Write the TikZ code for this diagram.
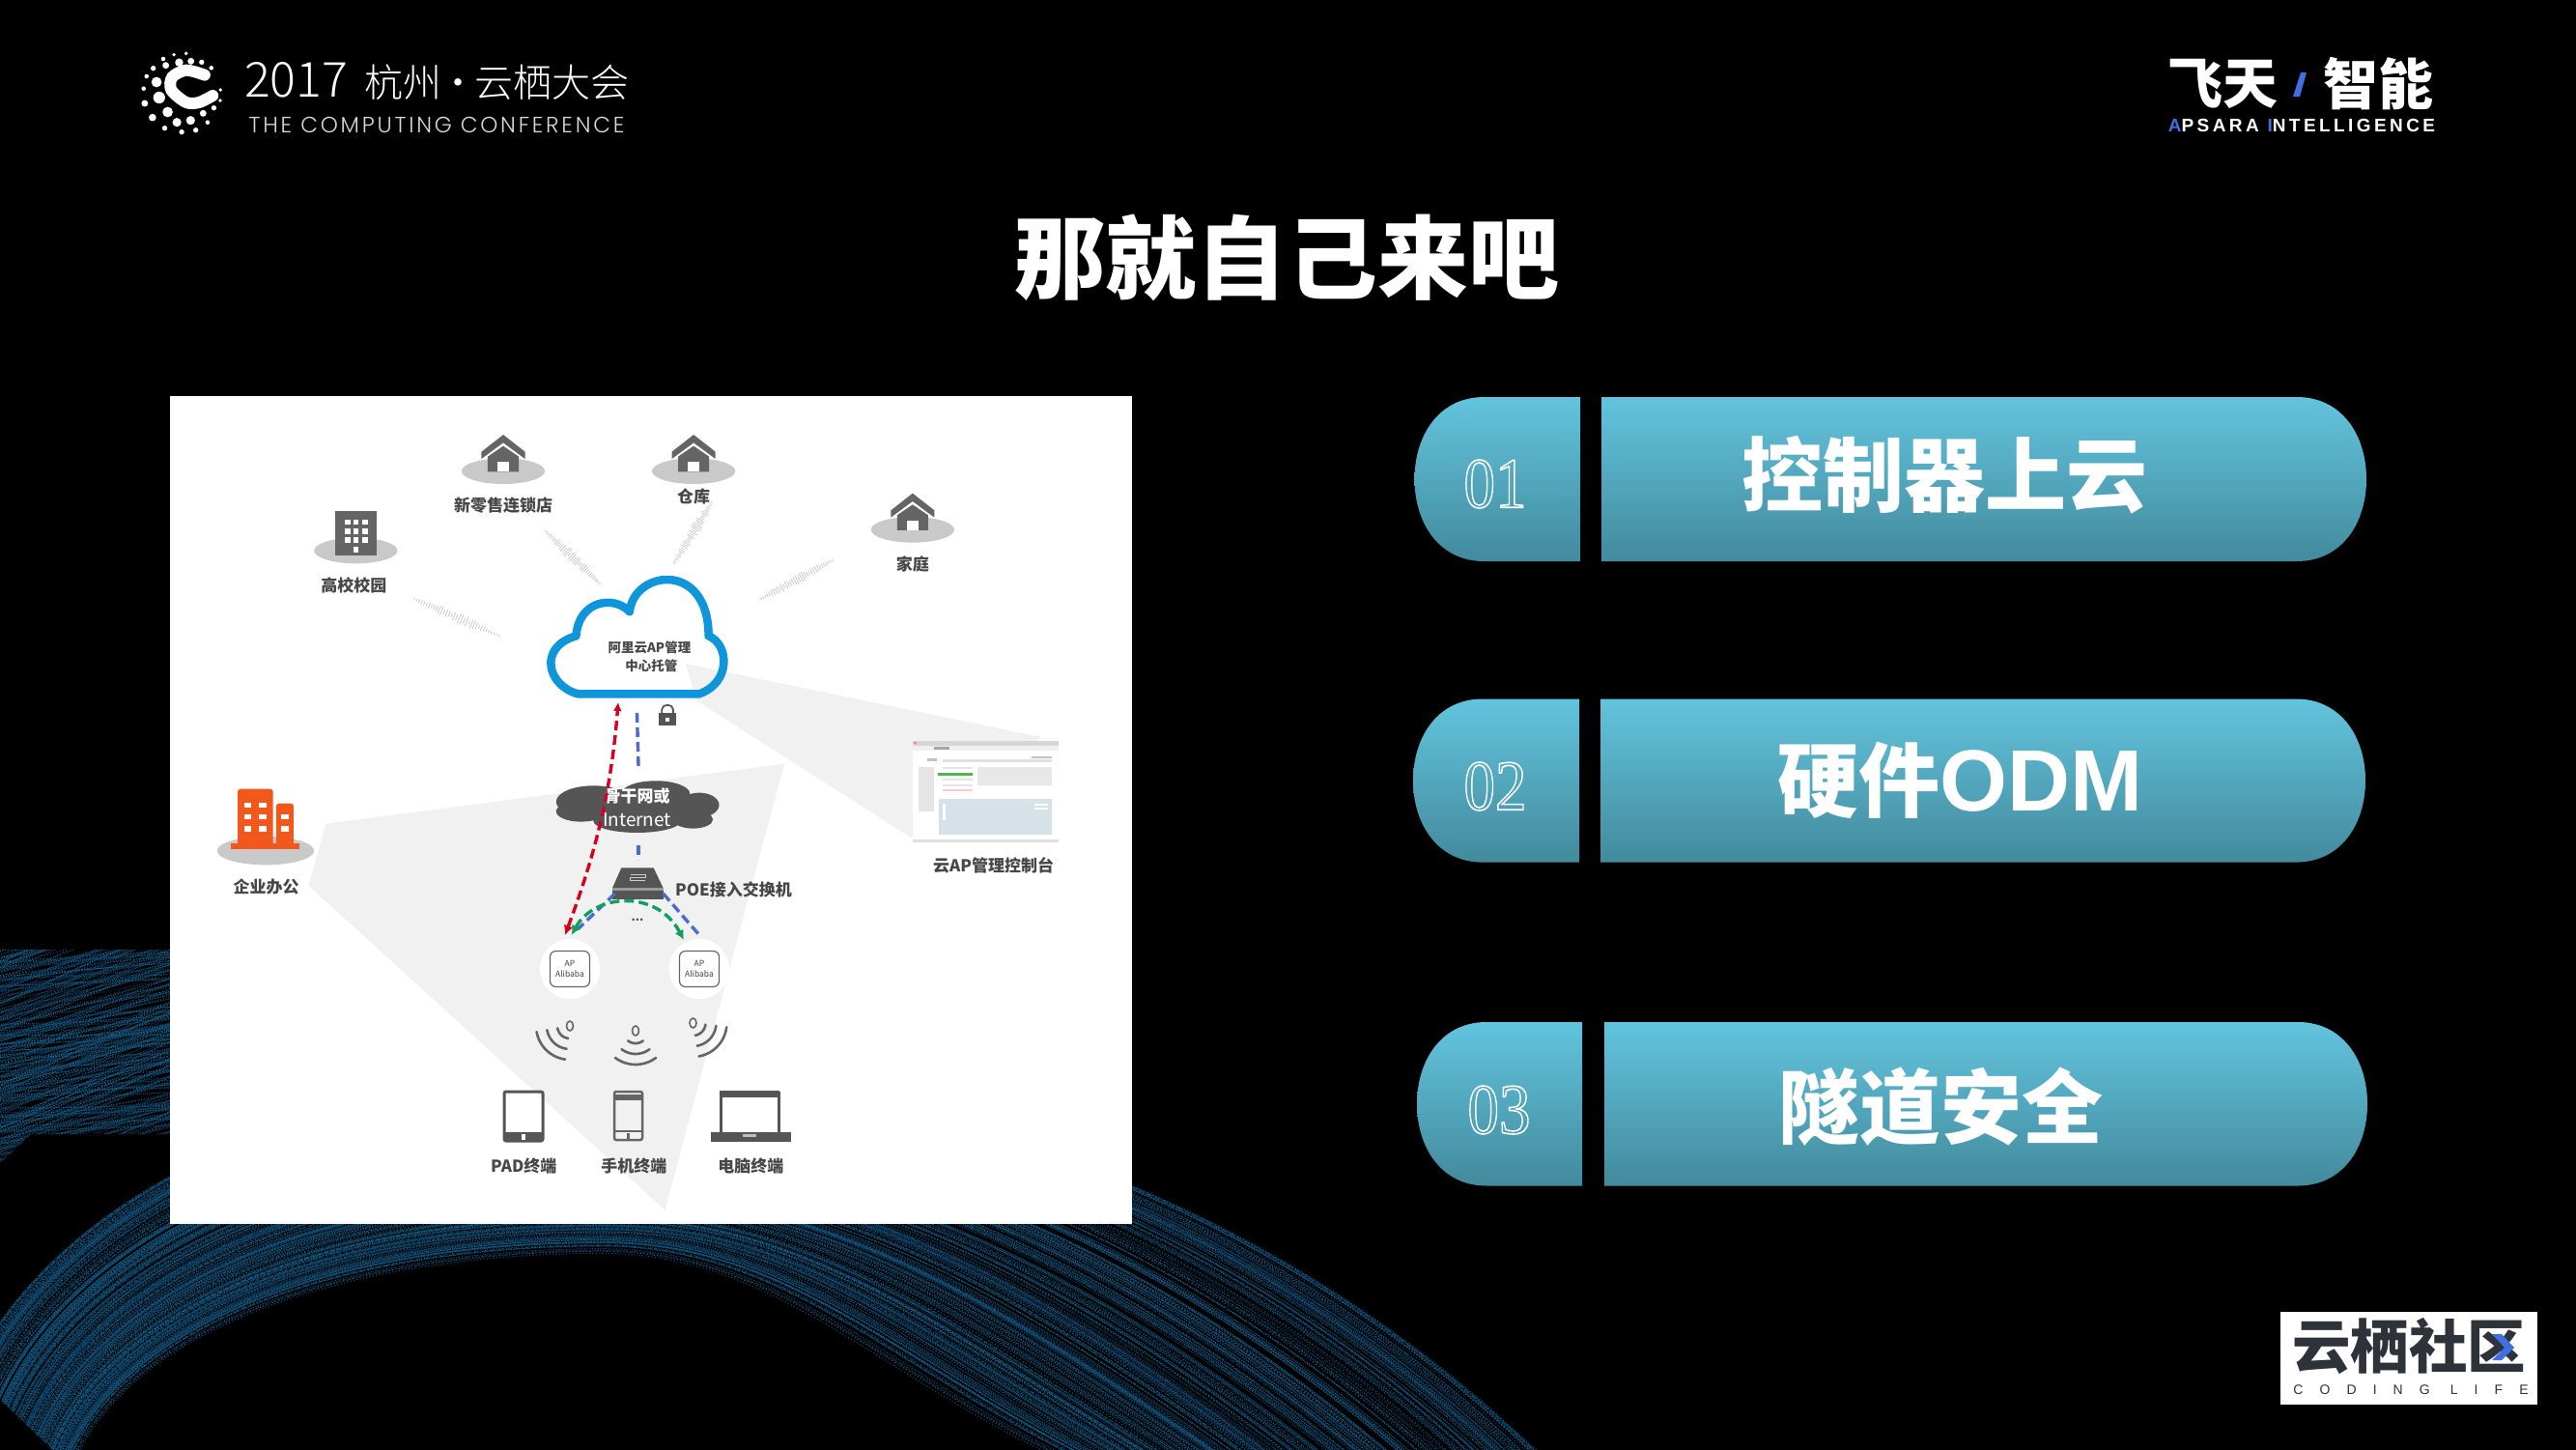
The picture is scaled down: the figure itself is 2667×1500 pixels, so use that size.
\documentclass[tikz,border=0pt]{standalone}
\usepackage{fontspec}
\usetikzlibrary{arrows.meta}
\setmainfont{Noto Sans CJK SC}
\newfontfamily\cjkfont{Noto Sans CJK SC}
\newfontfamily\hdrfont{Noto Sans CJK SC Light}
\newfontfamily\heavyfont{Noto Sans CJK SC Black}
\newfontfamily\enfont[LetterSpace=12]{Poppins Light}
\newfontfamily\numfont{Liberation Serif}
\newfontfamily\sansfont{Liberation Sans}
\newfontfamily\apsfont[LetterSpace=18]{Liberation Sans}
\newfontfamily\codefont[LetterSpace=122]{Liberation Sans}
\definecolor{pilltop}{HTML}{62C4DD}
\definecolor{pillbot}{HTML}{438A9D}
\definecolor{strA}{HTML}{0A3A5E}
\definecolor{strB}{HTML}{17668F}
\definecolor{wedge}{HTML}{F1F1F1}
\definecolor{plate}{HTML}{C9C9C9}
\definecolor{iconc}{HTML}{656565}
\definecolor{dark}{HTML}{555555}
\definecolor{cloudb}{HTML}{0F96DA}
\definecolor{netblue}{HTML}{4A6BD0}
\definecolor{netred}{HTML}{D8001C}
\definecolor{netgreen}{HTML}{0FA060}
\definecolor{orangeb}{HTML}{F2581B}
\definecolor{logoblue}{HTML}{3F6FE0}
\definecolor{logodark}{HTML}{2E3239}
\definecolor{consoleblue}{HTML}{D7E1E8}
\newcommand{\fs}[1]{\fontsize{#1}{#1}\selectfont}
\tikzset{
 lbl/.style={font=\fs{17}\bfseries,text=black!72,inner sep=0pt},
 small/.style={font=\fs{13.5}\bfseries,text=black!72,inner sep=0pt},
 pilltext/.style={font=\heavyfont\fs{84},text=white,inner sep=0pt},
 pillnum/.style={font=\numfont\fs{74},text=white,inner sep=0pt,xscale=.88},
 z1/.style={shift={(170,400)},xscale=0.6441,yscale=0.3333},
 z2/.style={shift={(170,850)},xscale=0.6441,yscale=0.3333},
 z3/.style={shift={(120,30)},xscale=0.3827,yscale=0.3333},
 z8/.style={shift={(540,880)},xscale=0.3333,yscale=0.3333},
 z9/.style={shift={(930,750)},xscale=0.3333,yscale=0.3333},
 wave/.style={line width=2.6pt,iconc,line cap=round},
 netdash/.style={line width=3.4pt,dash pattern=on 10pt off 5pt},
}
\newcommand{\lrp}[3]{\pgfmathsetmacro#1{#2+(#3-#2)*\q}}
\newcommand{\pillshape}[6]{% L gapL gapR R T B
 \pgfmathsetmacro\mid{(#5+#6)/2}
 \shade[top color=pilltop,bottom color=pillbot]
  (#2,#5) -- (#1+72,#5) .. controls (#1+25,#5) and (#1,#5+40) .. (#1,\mid)
  .. controls (#1,#6-40) and (#1+25,#6) .. (#1+72,#6) -- (#2,#6) -- cycle;
 \shade[top color=pilltop,bottom color=pillbot]
  (#3,#5) -- (#4-72,#5) .. controls (#4-25,#5) and (#4,#5+40) .. (#4,\mid)
  .. controls (#4,#6-40) and (#4-25,#6) .. (#4-72,#6) -- (#3,#6) -- cycle;
}
\newcommand{\house}[2]{% zoom1 coordinates of the plate centre
 \begin{scope}[z1,shift={(#1,#2)}]
  \fill[plate] (0,0) ellipse [x radius=67,y radius=40];
  \fill[iconc] (0,-113) -- (35,-60) -- (35,-38) -- (0,-88) -- (-35,-38) -- (-35,-60) -- cycle;
  \fill[iconc] (0,-78) -- (25,-45) -- (25,2) -- (-25,2) -- (-25,-45) -- cycle;
  \fill[white] (-9,-28) rectangle (9,2);
 \end{scope}}
\newcommand{\wifi}[4]{% cx cy a b
 \foreach \r in {13,24,35}{
  \draw[wave] plot[domain=#3:#4,samples=12,smooth] ({#1+\r*cos(\x)},{#2+\r*sin(\x)});}
 \draw[iconc,line width=1.6pt] (#1,#2) ellipse [x radius=3.5,y radius=5];}
\newcommand{\signal}[4]{%
 \pgfmathsetmacro\dx{#3-#1}\pgfmathsetmacro\dy{#4-#2}
 \pgfmathsetmacro\dl{sqrt(\dx*\dx+\dy*\dy)}
 \foreach \i in {0,...,34}{
  \pgfmathsetmacro\tq{\i/34}
  \pgfmathsetmacro\am{1+(1+4*rnd)*sin(180*\tq)}
  \pgfmathsetmacro\mx{#1+\dx*\tq}\pgfmathsetmacro\my{#2+\dy*\tq}
  \pgfmathsetmacro\ux{-\dy/\dl*\am}\pgfmathsetmacro\uy{\dx/\dl*\am}
  \draw[black!24,line width=.7pt] (\mx+\ux,\my+\uy) -- (\mx-\ux,\my-\uy);
 }}
\newcommand{\archstrand}[2]{%
 \pgfmathsetmacro\q{rnd}
 \lrp\ax{75}{-30}\lrp\ay{1520}{1420}
 \lrp\bx{125}{60}\lrp\by{1390}{1230}
 \lrp\cx{330}{350}\lrp\cy{1300}{1090}
 \lrp\dxx{620}{700}\lrp\dyy{1298}{1120}
 \lrp\ex{800}{1000}\lrp\ey{1298}{1130}
 \lrp\fx{900}{1350}\lrp\fy{1420}{1260}
 \lrp\gx{1095}{1610}\lrp\gy{1510}{1520}
 \pgfmathsetmacro\phs{4*rnd}
 \pgfmathsetmacro\onl{.6+1.0*rnd}
 \pgfmathsetmacro\ofl{#2*(.8+1.6*rnd)}
 \draw[#1,line width=1pt,dash pattern=on \onl pt off \ofl pt,dash phase=\phs pt]
  (\ax,\ay) .. controls (\bx,\by) and (\cx,\cy) .. (\dxx,\dyy)
  .. controls (\ex,\ey) and (\fx,\fy) .. (\gx,\gy);}
\begin{document}
\begin{tikzpicture}[x=1pt,y=-1pt]
\useasboundingbox (0,0) rectangle (2667,1500);
\fill[black] (-5,-5) rectangle (2672,1505);
% ---------- speckled strands behind the panel
\begin{scope}
\clip (0,0) rectangle (2667,1500);
\pgfmathsetseed{4242}
\foreach \i in {1,...,320}{
 \pgfmathsetmacro\mixv{int(100*rnd)}
 \archstrand{strB!\mixv!strA}{1}
}
\foreach \i in {1,...,60}{
 \archstrand{black}{3}
}
\begin{scope}
\clip (-2,983) -- (176,983) -- (176,1174) -- (32,1174) -- (-2,1206) -- cycle;
\foreach \i in {1,...,340}{
 \pgfmathsetmacro\q{rnd}
 \pgfmathsetmacro\qq{rnd}
 \pgfmathsetmacro\mixv{int(100*rnd)}
 \pgfmathsetmacro\phs{4*rnd}
 \pgfmathsetmacro\onl{.6+1.0*rnd}
 \pgfmathsetmacro\ofl{.8+1.6*rnd}
 \lrp\ay{975}{1250}
 \pgfmathsetmacro\by{\ay-30*\qq}
 \pgfmathsetmacro\cy{\ay-70*\qq}
 \pgfmathsetmacro\dyy{\ay-100*\qq}
 \draw[strB!\mixv!strA,line width=1pt,dash pattern=on \onl pt off \ofl pt,dash phase=\phs pt]
  (-10,\ay) .. controls (50,\by) and (120,\cy) .. (190,\dyy);
}
\end{scope}
\end{scope}
% ---------- white panel
\fill[white] (176,410) rectangle (1172,1267);
\fill[wedge] (337.5,852.7) -- (812,790.7) -- (688.5,1252.7) -- (319.4,916.7) -- cycle;
% ---------- header left
\begin{scope}[z3]
 \foreach \a/\b/\r in {128/93/6,157/80/5,190/76/5,101/122/7,135/113/9,171/104/11,203/100/9,232/103/7,258/121/6,83/147/6,110/165/14,75/185/6,117/213/16,78/231/9,140/258/14,99/275/10,132/308/7,165/290/12,202/284/12,236/262/9,265/245/7,283/189/5,282/222/5,248/290/6,216/314/7,178/320/7}
  {\fill[white] (\a,\b) ellipse [x radius=\r,y radius=\r*1.15];}
 \draw[white,line width=12pt,line cap=round] plot[smooth] coordinates {(240,143)(190,128)(152,150)(150,190)(190,228)(225,228)(262,207)};
\end{scope}
\node[inner sep=0pt,text=white,font=\hdrfont\fs{40}] (hdrzh) at (452,84) {{\fs{50}2017}\hspace{17pt}杭州\makebox[34pt]{·}云栖大会};
\node[inner sep=0pt,text=white!85!black,font=\enfont\fs{23}] (hdren) at (452,129) {THE COMPUTING CONFERENCE};
% ---------- header right
\node[inner sep=0pt,text=white,font=\fs{57}\bfseries] (feitian) at (2301,87) {飞天};
\fill[logoblue] (2382,75) -- (2388,75) -- (2381,100) -- (2374,100) -- cycle;
\node[inner sep=0pt,text=white,font=\fs{57}\bfseries] (zhineng) at (2462,87) {智能};
\node[inner sep=0pt,text=white,font=\apsfont\fs{19}\bfseries] (apsara) at (2383,130) {\textcolor{logoblue}{A}PSARA \textcolor{logoblue}{I}NTELLIGENCE};
% ---------- title
\node[inner sep=0pt,text=white,font=\heavyfont\fs{94}] (title) at (1332,267) {那就自己来吧};
% ---------- pills
\pillshape{1464.5}{1636}{1658}{2450}{411}{581}
\pillshape{1463}{1635}{1657}{2449}{723.5}{892.6}
\pillshape{1467}{1638}{1661}{2451}{1058}{1227.5}
\node[pilltext] (p1) at (2013,492) {控制器上云};
\node[pilltext] (p2) at (2029,808) {硬件{\sansfont\fs{90}\bfseries ODM}};
\node[pilltext] (p3) at (2009,1146) {隧道安全};
\node[pillnum] (n1) at (1548,501) {\special{pdf:code 1 Tr 1.6 w}01\special{pdf:code 0 Tr}};
\node[pillnum] (n2) at (1548,814) {\special{pdf:code 1 Tr 1.6 w}02\special{pdf:code 0 Tr}};
\node[pillnum] (n3) at (1552,1149) {\special{pdf:code 1 Tr 1.6 w}03\special{pdf:code 0 Tr}};
% ---------- bottom right logo
\fill[white] (2361,1358) rectangle (2627,1454);
\node[inner sep=0pt,text=logodark,font=\fs{60.5}\bfseries] (yq) at (2494,1394) {云栖社区};
\fill[logoblue] (2580,1381) -- (2590,1381) -- (2603,1395) -- (2590,1408) -- (2580,1408) -- (2593,1395) -- cycle;
\node[inner sep=0pt,text=logodark,font=\codefont\fs{14}] (coding) at (2496,1439) {CODING LIFE};
% ---------- signal hatching
\pgfmathsetseed{77}
\signal{565}{550}{621}{604}
\signal{737}{520}{698}{583}
\signal{788}{620}{862}{580}
\signal{429}{620}{516.5}{658}
% ---------- sites
\house{545}{263}
\house{851}{263}
\house{1203}{445}
\begin{scope}[z1]
 \fill[plate] (308,510) ellipse [x radius=67,y radius=40];
 \fill[iconc] (275,388) rectangle (342,525);
 \foreach \a in {295,308,323}\foreach \b in {422,450,477}{\fill[white] (\a-4,\b-8) rectangle (\a+4,\b+8);}
 \fill[white] (304,497) rectangle (312,515);
\end{scope}
\begin{scope}[z1]
 \node[lbl] (l1) at (545,370) {新零售连锁店};
 \node[lbl] (l2) at (851,342) {仓库};
 \node[lbl] (l3) at (305,618) {高校校园};
 \node[lbl] (l4) at (1203,553) {家庭};
\end{scope}
% ---------- main cloud and console wedge
\begin{scope}[z1]
 \fill[white] (665,955) .. controls (616,930) and (600,810) .. (662,775) .. controls (667,660) and (725,650) .. (748,700) .. controls (755,570) and (875,540) .. (875,775) .. controls (908,800) and (912,920) .. (860,955) -- cycle;
\end{scope}
\fill[wedge] (710,687) -- (1078,763) -- (943,867) -- (720.7,725) -- cycle;
\begin{scope}[z1]
 \draw[cloudb,line width=8.5pt,line join=round] (665,955) .. controls (616,930) and (600,810) .. (662,775) .. controls (667,660) and (725,650) .. (748,700) .. controls (755,570) and (875,540) .. (875,775) .. controls (908,800) and (912,920) .. (860,955) -- cycle;
 \node[small] (c1) at (780,810) {阿里云AP管理};
 \node[small] (c2) at (783,868) {中心托管};
 % lock
 \fill[dark] (795,1015) rectangle (823,1052);
 \draw[dark,line width=1.8pt] (800,1016) -- (800,1003) .. controls (800,985) and (818,985) .. (818,1003) -- (818,1016);
 \fill[white] (806,1028) rectangle (812,1040);
\end{scope}
% ---------- console
\begin{scope}[z9]
 \fill[black!12] (45,55) rectangle (499,366);
 \fill[white] (45,50) rectangle (497,358);
 \fill[black!16] (45,50) rectangle (497,65);
 \fill[black!6] (45,65) rectangle (497,80);
 \fill[black!35] (112,68) rectangle (160,78);
 \fill[red!50] (47,54) rectangle (57,60);
 \fill[green!30!black!30] (90,105) rectangle (120,115);
 \fill[black!12] (138,108) rectangle (477,116);
 \fill[black!25] (413,98) rectangle (477,104);
 \fill[black!10] (62,133) rectangle (110,270);
 \fill[black!10] (137,132) rectangle (232,138);
 \fill[green!60!black!70] (122,149) rectangle (232,159);
 \fill[black!10] (137,168) rectangle (232,174);
 \fill[black!10] (137,185) rectangle (232,191);
 \fill[red!20] (137,201) rectangle (232,207);
 \fill[black!9] (245,133) rectangle (477,188);
 \fill[consoleblue] (125,230) rectangle (477,342);
 \fill[white] (138,246) rectangle (146,296);
 \fill[white] (424,246) rectangle (464,252);
 \fill[white] (424,258) rectangle (464,264);
\end{scope}
\node[lbl] (l5) at (1028.6,896) {云AP管理控制台};
% ---------- dark cloud
\begin{scope}[z1]
 \fill[dark] (762,1305) ellipse [x radius=115,y radius=55];
 \foreach \a/\b/\c/\d in {690/1290/60/50,790/1265/55/40,860/1300/32/38,760/1350/70/36,850/1345/32/28,670/1320/40/32}
  {\fill[dark] (\a,\b) ellipse [x radius=\c,y radius=\d];}
 \node[inner sep=0pt,text=white,font=\fs{17}\bfseries] (backbone) at (760,1273) {骨干网或};
 \node[inner sep=0pt,text=white,font=\fs{19}] (internet) at (760,1345) {Internet};
\end{scope}
% ---------- office
\begin{scope}[z2]
 \fill[plate] (163,92) ellipse [x radius=78,y radius=44];
 \fill[orangeb] (107,68) rectangle (217,88);
 \fill[orangeb,rounded corners=3pt] (118,75) rectangle (175,-100);
 \fill[orangeb,rounded corners=3pt] (180,75) rectangle (208,-55);
 \foreach \b in {-50,-13,24}{\fill[white] (129,\b-8) rectangle (140,\b+8);\fill[white] (152,\b-8) rectangle (165,\b+8);}
 \foreach \b in {-13,24}{\fill[white] (188,\b-8) rectangle (200,\b+8);}
 \node[lbl] (l6) at (164,205) {企业办公};
\end{scope}
% ---------- switch
\begin{scope}[z8]
 \fill[dark] (310,55) -- (410,55) -- (440,118) -- (282,118) -- cycle;
 \fill[black!40] (282,118) rectangle (440,126);
 \fill[dark] (282,126) rectangle (440,152);
 \draw[white!80!black,line width=1.6pt] (338,76) -- (385,76) -- (385,85) -- (338,85) -- (338,95) -- (385,95);
 \coordinate (swTop) at (360,55);
 \coordinate (swL) at (290,135);
 \coordinate (swR) at (440,135);
 \node[inner sep=0pt,font=\fs{12}\bfseries,text=black!70] (dots) at (360,216) {...};
\end{scope}
\node[lbl,anchor=west] (poe) at (699,921) {POE接入交换机};
% ---------- access points
\foreach \nm/\cx in {apa/590,apb/724}{
 \fill[white] (\cx,1003) circle (31);
 \node[draw=black!60,line width=1.2pt,rounded corners=6pt,minimum width=41pt,minimum height=37pt,inner sep=0pt,
   align=center,font=\fs{8.5},text=black!75] (\nm) at (\cx,1003) {AP\\[2pt]Alibaba};
}
% ---------- connectors
\coordinate (cloudUp) at (640,727);
\coordinate (redEnd) at (585,968);
\coordinate (blueTop) at (659.5,738);
\coordinate (blueMid) at (661,793);
\coordinate (blueLow) at (661,875);
\coordinate (blueLowE) at (661,890);
\coordinate (apaTop) at (598,962);
\coordinate (apbTop) at (725,969);
\coordinate (grnA) at (591.7,968);
\coordinate (grnB) at (708,973);
\draw[netdash,netblue] (blueTop) -- (blueMid);
\draw[netdash,netblue] (blueLow) -- (blueLowE);
\draw[netdash,netblue] (swL) -- (apaTop);
\draw[netdash,netblue] (swR) -- (apbTop);
\draw[netdash,netgreen,{Latex[length=10pt,width=10pt]}-{Latex[length=10pt,width=10pt]}] (grnA) .. controls (615,925) and (680,920) .. (grnB);
\draw[netdash,netred,{Latex[length=10pt,width=10pt]}-{Latex[length=9pt,width=9pt]}] (redEnd) .. controls (612,895) and (632,830) .. (cloudUp);
% ---------- wifi
\wifi{590}{1062}{98}{170}
\wifi{658}{1067}{53}{127}
\wifi{717.5}{1059}{7}{80}
% ---------- terminals
\draw[dark,line width=3pt,rounded corners=2pt] (522,1130) rectangle (562,1181);
\fill[dark] (522,1172) rectangle (562,1182);
\fill[white] (540,1174) rectangle (544,1180);
\draw[iconc,line width=2.5pt,rounded corners=2pt] (636,1130) rectangle (665,1180);
\fill[iconc] (636,1133) rectangle (665,1139);
\draw[iconc,line width=1.8pt] (636,1171) -- (665,1171);
\fill[iconc] (649,1173) rectangle (652,1179);
\draw[dark,line width=3pt] (746,1131) rectangle (806,1173);
\fill[dark] (745,1129) rectangle (807,1136);
\fill[dark] (735.5,1172) rectangle (819,1182);
\fill[black!25] (769,1174) rectangle (783,1177);
\begin{scope}[z2]
 \node[lbl] (l7) at (578,1070) {PAD终端};
 \node[lbl] (l8) at (755,1070) {手机终端};
 \node[lbl] (l9) at (943,1070) {电脑终端};
\end{scope}
\end{tikzpicture}
\end{document}
